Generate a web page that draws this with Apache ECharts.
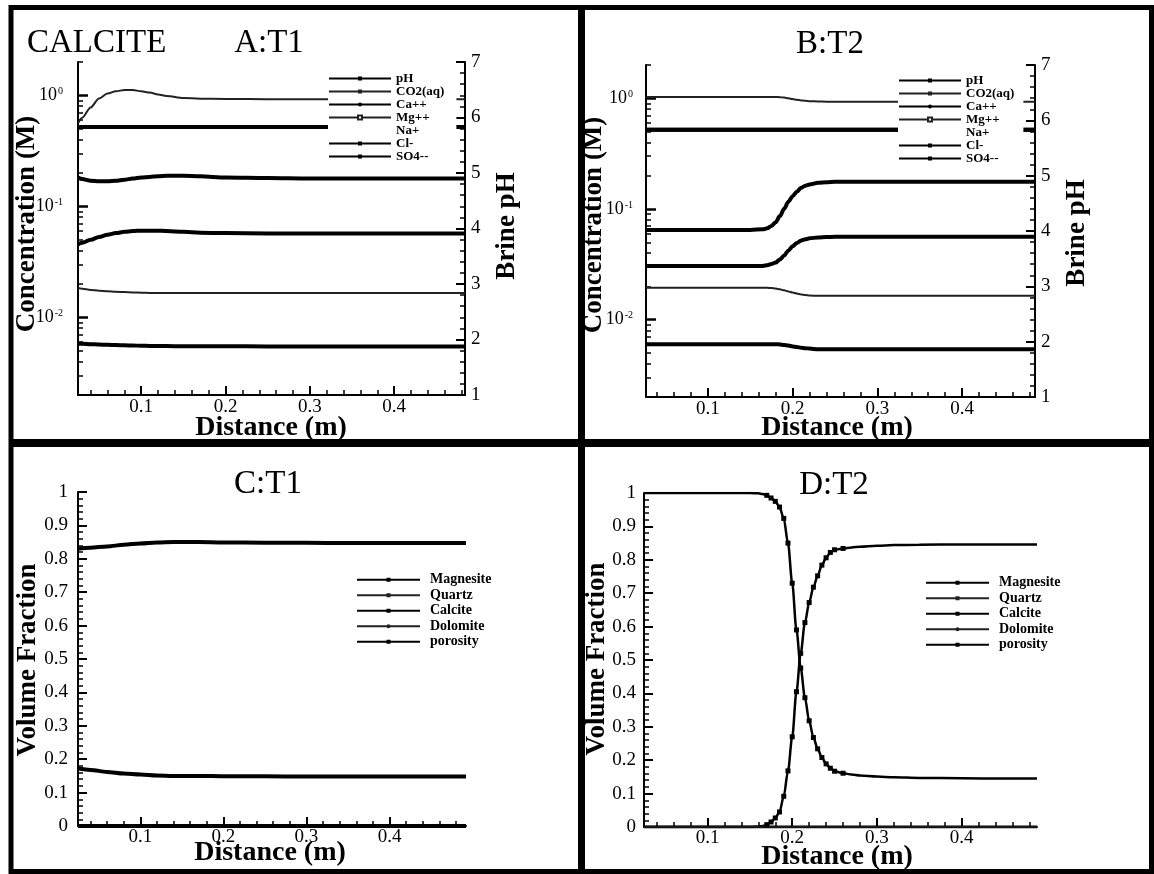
<!DOCTYPE html>
<html>
<head>
<meta charset="utf-8">
<script src="https://cdn.jsdelivr.net/npm/echarts@6/dist/echarts.min.js"></script>
<style>
    html, body { margin: 0; padding: 0; background: #fff; }
    #main { width: 1154px; height: 874px; }
</style>
</head>
<body>
<div id="main"></div>
<script>
    var SERIF = "'Liberation Serif', 'Times New Roman', serif";

    // tick positions
    var majorDist = [0.1, 0.2, 0.3, 0.4];
    var minorDist = [0.04, 0.06, 0.08, 0.12, 0.14, 0.16, 0.18, 0.22, 0.24, 0.26, 0.28, 0.32, 0.34, 0.36, 0.38, 0.42, 0.44, 0.46, 0.48];
    var majorConc = [0.01, 0.1, 1];
    var minorConc = [0.002, 0.003, 0.004, 0.005, 0.006, 0.007, 0.008, 0.009,
        0.02, 0.03, 0.04, 0.05, 0.06, 0.07, 0.08, 0.09,
        0.2, 0.3, 0.4, 0.5, 0.6, 0.7, 0.8, 0.9, 2];

    // A:T1  (concentration in M, pH on right axis)
    var distA = [0.025, 0.03, 0.04, 0.05, 0.06, 0.07, 0.08, 0.09, 0.10, 0.11, 0.12, 0.13, 0.15, 0.17, 0.20, 0.25, 0.30, 0.35, 0.40, 0.45, 0.484];
    var phA = [4.92, 4.89, 4.86, 4.85, 4.85, 4.86, 4.88, 4.90, 4.92, 4.93, 4.94, 4.95, 4.95, 4.94, 4.92, 4.91, 4.90, 4.90, 4.90, 4.90, 4.90];
    var co2A = [0.56, 0.63, 0.78, 0.94, 1.04, 1.09, 1.12, 1.12, 1.09, 1.06, 1.02, 0.99, 0.95, 0.935, 0.93, 0.925, 0.925, 0.925, 0.925, 0.925, 0.925];
    var caA = [0.0455, 0.047, 0.050, 0.053, 0.0555, 0.0575, 0.059, 0.060, 0.0605, 0.0605, 0.0605, 0.060, 0.059, 0.058, 0.0575, 0.057, 0.057, 0.057, 0.057, 0.057, 0.057];
    var mgA = [0.0184, 0.0181, 0.0177, 0.0174, 0.0172, 0.0170, 0.0169, 0.0168, 0.0167, 0.0166, 0.0166, 0.0166, 0.0166, 0.0166, 0.0166, 0.0166, 0.0166, 0.0166, 0.0166, 0.0166, 0.0166];
    var naA = [0.52, 0.52, 0.52, 0.52, 0.52, 0.52, 0.52, 0.52, 0.52, 0.52, 0.52, 0.52, 0.52, 0.52, 0.52, 0.52, 0.52, 0.52, 0.52, 0.52, 0.52];
    var clA = [0.52, 0.52, 0.52, 0.52, 0.52, 0.52, 0.52, 0.52, 0.52, 0.52, 0.52, 0.52, 0.52, 0.52, 0.52, 0.52, 0.52, 0.52, 0.52, 0.52, 0.52];
    var so4A = [0.0058, 0.00578, 0.00574, 0.0057, 0.00567, 0.00564, 0.00561, 0.00558, 0.00556, 0.00554, 0.00553, 0.00552, 0.0055, 0.0055, 0.00549, 0.00548, 0.00548, 0.00548, 0.00548, 0.00548, 0.00548];

    // B:T2
    var distB = [0.027, 0.05, 0.10, 0.15, 0.165, 0.17, 0.175, 0.18, 0.185, 0.19, 0.195, 0.20, 0.205, 0.21, 0.215, 0.22, 0.23, 0.24, 0.25, 0.30, 0.35, 0.40, 0.45, 0.486];
    var phB = [4.02, 4.02, 4.02, 4.02, 4.03, 4.05, 4.09, 4.16, 4.27, 4.40, 4.53, 4.63, 4.71, 4.78, 4.82, 4.84, 4.87, 4.88, 4.89, 4.89, 4.89, 4.89, 4.89, 4.89];
    var co2B = [1.03, 1.03, 1.03, 1.03, 1.03, 1.03, 1.03, 1.03, 1.025, 1.015, 1.0, 0.985, 0.97, 0.958, 0.95, 0.943, 0.937, 0.933, 0.93, 0.93, 0.93, 0.93, 0.93, 0.93];
    var caB = [0.0305, 0.0305, 0.0305, 0.0305, 0.0306, 0.031, 0.0318, 0.0328, 0.035, 0.038, 0.0422, 0.046, 0.0493, 0.0518, 0.0532, 0.0543, 0.0553, 0.0558, 0.056, 0.056, 0.056, 0.056, 0.056, 0.056];
    var mgB = [0.0194, 0.0194, 0.0194, 0.0194, 0.0194, 0.0194, 0.0193, 0.0191, 0.0188, 0.0184, 0.018, 0.0176, 0.0172, 0.0169, 0.0167, 0.0165, 0.0164, 0.0164, 0.0164, 0.0164, 0.0164, 0.0164, 0.0164, 0.0164];
    var naB = [0.52, 0.52, 0.52, 0.52, 0.52, 0.52, 0.52, 0.52, 0.52, 0.52, 0.52, 0.52, 0.52, 0.52, 0.52, 0.52, 0.52, 0.52, 0.52, 0.52, 0.52, 0.52, 0.52, 0.52];
    var clB = [0.52, 0.52, 0.52, 0.52, 0.52, 0.52, 0.52, 0.52, 0.52, 0.52, 0.52, 0.52, 0.52, 0.52, 0.52, 0.52, 0.52, 0.52, 0.52, 0.52, 0.52, 0.52, 0.52, 0.52];
    var so4B = [0.006, 0.006, 0.006, 0.006, 0.006, 0.006, 0.006, 0.006, 0.00597, 0.0059, 0.00583, 0.00573, 0.00565, 0.00558, 0.00552, 0.00548, 0.0054, 0.0054, 0.0054, 0.0054, 0.0054, 0.0054, 0.0054, 0.0054];

    // C:T1  (volume fraction)
    var distC = [0.025, 0.04, 0.06, 0.08, 0.10, 0.12, 0.14, 0.17, 0.20, 0.25, 0.30, 0.35, 0.40, 0.45, 0.492];
    var magnesiteC = [0, 0, 0, 0, 0, 0, 0, 0, 0, 0, 0, 0, 0, 0, 0];
    var quartzC = [0, 0, 0, 0, 0, 0, 0, 0, 0, 0, 0, 0, 0, 0, 0];
    var calciteC = [0.830, 0.833, 0.837, 0.842, 0.846, 0.849, 0.850, 0.850, 0.849, 0.848, 0.848, 0.847, 0.847, 0.847, 0.847];
    var dolomiteC = [0, 0, 0, 0, 0, 0, 0, 0, 0, 0, 0, 0, 0, 0, 0];
    var porosityC = [0.172, 0.168, 0.162, 0.157, 0.154, 0.151, 0.150, 0.150, 0.149, 0.149, 0.148, 0.148, 0.148, 0.148, 0.148];

    // D:T2
    var distD = [0.025, 0.10, 0.15, 0.16, 0.165, 0.17, 0.175, 0.18, 0.185, 0.19, 0.195, 0.20, 0.205, 0.21, 0.215, 0.22, 0.225, 0.23, 0.235, 0.24, 0.245, 0.25, 0.26, 0.27, 0.28, 0.30, 0.32, 0.35, 0.40, 0.45, 0.489];
    var magnesiteD = [0, 0, 0, 0, 0, 0, 0, 0, 0, 0, 0, 0, 0, 0, 0, 0, 0, 0, 0, 0, 0, 0, 0, 0, 0, 0, 0, 0, 0, 0, 0];
    var quartzD = [0, 0, 0, 0, 0, 0, 0, 0, 0, 0, 0, 0, 0, 0, 0, 0, 0, 0, 0, 0, 0, 0, 0, 0, 0, 0, 0, 0, 0, 0, 0];
    var calciteD = [0, 0, 0, 0.001, 0.003, 0.007, 0.015, 0.027, 0.045, 0.092, 0.168, 0.27, 0.405, 0.52, 0.612, 0.672, 0.718, 0.752, 0.784, 0.806, 0.822, 0.83, 0.834, 0.837, 0.839, 0.842, 0.844, 0.845, 0.846, 0.846, 0.846];
    var dolomiteD = [0, 0, 0, 0, 0, 0, 0, 0, 0, 0, 0, 0, 0, 0, 0, 0, 0, 0, 0, 0, 0, 0, 0, 0, 0, 0, 0, 0, 0, 0, 0];
    var porosityD = [1.0, 1.0, 1.0, 0.999, 0.997, 0.993, 0.985, 0.975, 0.958, 0.924, 0.85, 0.73, 0.59, 0.476, 0.387, 0.318, 0.268, 0.234, 0.208, 0.189, 0.176, 0.167, 0.161, 0.157, 0.154, 0.151, 0.149, 0.147, 0.146, 0.145, 0.145];

    var chart = echarts.init(document.getElementById('main'));

    var black = '#000';

    function pairs(xs, ys) {
        return xs.map(function (x, i) { return [x, ys[i]]; });
    }

    function xAxes(grid, min, max, labelMargin) {
        return [{
            type: 'value', gridIndex: grid, min: min, max: max, position: 'bottom',
            axisLine: {show: true, onZero: false, lineStyle: {color: black, width: 2}},
            axisTick: {inside: true, length: 9, customValues: majorDist, lineStyle: {color: black, width: 2}},
            axisLabel: {customValues: majorDist, color: black, fontFamily: SERIF, fontSize: 19, margin: labelMargin},
            splitLine: {show: false}
        }, {
            type: 'value', gridIndex: grid, min: min, max: max, position: 'bottom',
            axisLine: {show: false, onZero: false},
            axisTick: {inside: true, length: 5, customValues: minorDist, lineStyle: {color: black, width: 1.5}},
            axisLabel: {show: false},
            splitLine: {show: false}
        }];
    }

    function concAxes(grid, labelMargin) {
        return [{
            type: 'log', logBase: 10, gridIndex: grid, min: 0.002, max: 2, position: 'left',
            axisLine: {show: true, onZero: false, lineStyle: {color: black, width: 2}},
            axisTick: {inside: true, length: 10, customValues: majorConc, lineStyle: {color: black, width: 2.5}},
            axisLabel: {
                customValues: majorConc, color: black, fontFamily: SERIF, fontSize: 18, margin: labelMargin,
                formatter: function (v) { return '10{sup|' + Math.round(Math.log10(v)) + '}'; },
                rich: {sup: {fontSize: 10, fontFamily: SERIF, color: black, verticalAlign: 'top', padding: [0, 0, 8, 1]}}
            },
            splitLine: {show: false}
        }, {
            type: 'log', logBase: 10, gridIndex: grid, min: 0.002, max: 2, position: 'left',
            axisLine: {show: false, onZero: false},
            axisTick: {inside: true, length: 5, customValues: minorConc, lineStyle: {color: black, width: 1.5}},
            axisLabel: {show: false},
            splitLine: {show: false}
        }];
    }

    function phAxis(grid) {
        return {
            type: 'value', gridIndex: grid, min: 1, max: 7, interval: 1, position: 'right',
            axisLine: {show: true, onZero: false, lineStyle: {color: black, width: 2}},
            axisTick: {inside: true, length: 9, lineStyle: {color: black, width: 2}},
            minorTick: {show: true, splitNumber: 5, length: 5, lineStyle: {color: black, width: 1.5}},
            axisLabel: {color: black, fontFamily: SERIF, fontSize: 19, margin: 6},
            splitLine: {show: false}
        };
    }

    function fracAxis(grid, labelMargin) {
        return {
            type: 'value', gridIndex: grid, min: 0, max: 1, interval: 0.1, position: 'left',
            axisLine: {show: true, onZero: false, lineStyle: {color: black, width: 2}},
            axisTick: {inside: true, length: 9, lineStyle: {color: black, width: 2}},
            minorTick: {show: true, splitNumber: 5, length: 5, lineStyle: {color: black, width: 1.5}},
            axisLabel: {color: black, fontFamily: SERIF, fontSize: 19, margin: labelMargin},
            splitLine: {show: false}
        };
    }

    function line(name, xs, ys, xi, yi, width, symbol, color) {
        return {
            name: name, type: 'line', xAxisIndex: xi, yAxisIndex: yi,
            data: pairs(xs, ys),
            smooth: 0.3, smoothMonotone: 'x',
            symbol: symbol, showSymbol: false,
            lineStyle: {color: color || black, width: width},
            itemStyle: {color: color || black},
            z: width > 3 ? 3 : 2
        };
    }

    // D:T2 curves carry markers through the front
    function markedLine(name, xs, ys, xi, yi, width, symbol) {
        var s = line(name, xs, ys, xi, yi, width, symbol);
        s.showSymbol = true;
        s.symbolSize = function (val) {
            return (val[0] > 0.168 && val[0] < 0.27) ? 5 : 0;
        };
        return s;
    }

    function concLegend(left, top, padRight) {
        return {
            orient: 'vertical', left: left, top: top,
            padding: [1, padRight, 1, 0],
            backgroundColor: '#fff',
            itemWidth: 62, itemHeight: 5, itemGap: 0,
            selectedMode: false,
            textStyle: {fontFamily: SERIF, fontWeight: 'bold', fontSize: 13, lineHeight: 12, color: black},
            data: ['pH', 'CO2(aq)', 'Ca++', 'Mg++',
                {name: 'Na+', itemStyle: {opacity: 0}, lineStyle: {opacity: 0}},
                'Cl-', 'SO4--']
        };
    }

    function mineralLegend(left, top) {
        return {
            orient: 'vertical', left: left, top: top,
            padding: [0, 4, 0, 0],
            backgroundColor: '#fff',
            itemWidth: 63, itemHeight: 5, itemGap: 0,
            selectedMode: false,
            textStyle: {fontFamily: SERIF, fontWeight: 'bold', fontSize: 14, lineHeight: 15.5, color: black, padding: [0, 0, 0, 5]},
            data: ['Magnesite', 'Quartz', 'Calcite', 'Dolomite', 'porosity']
        };
    }

    function label(text, x, y, size, bold, rotate, align) {
        return {
            type: 'text', x: x, y: y, rotation: rotate ? Math.PI / 2 : 0,
            style: {
                text: text, fill: black, align: align || 'center', verticalAlign: 'middle',
                font: (bold ? 'bold ' : '') + size + 'px ' + SERIF
            }
        };
    }

    var option = {
        animation: false,
        backgroundColor: '#fff',
        grid: [
            {left: 78, top: 62, width: 387, height: 333},
            {left: 646, top: 65, width: 389, height: 332},
            {left: 78, top: 492, width: 388, height: 334},
            {left: 644, top: 493, width: 393, height: 334}
        ],
        xAxis: [].concat(
            xAxes(0, 0.025, 0.484, 3),
            xAxes(1, 0.027, 0.486, 3),
            xAxes(2, 0.025, 0.492, 2),
            xAxes(3, 0.025, 0.489, 2)
        ),
        yAxis: [].concat(
            concAxes(0, 15), [phAxis(0)],
            concAxes(1, 13), [phAxis(1)],
            [fracAxis(2, 10), fracAxis(3, 8)]
        ),
        legend: [
            concLegend(328, 71, 12),
            concLegend(898, 73, 9),
            mineralLegend(356, 572),
            mineralLegend(925, 575)
        ],
        series: [
            // A
            line('pH', distA, phA, 0, 2, 4, 'rect'),
            line('CO2(aq)', distA, co2A, 0, 0, 2, 'rect', '#222'),
            line('Ca++', distA, caA, 0, 0, 4, 'circle'),
            line('Mg++', distA, mgA, 0, 0, 2, 'emptyRect', '#222'),
            line('Na+', distA, naA, 0, 0, 4, 'rect'),
            line('Cl-', distA, clA, 0, 0, 4, 'rect'),
            line('SO4--', distA, so4A, 0, 0, 4, 'rect'),
            // B
            line('pH', distB, phB, 2, 5, 4, 'rect'),
            line('CO2(aq)', distB, co2B, 2, 3, 2, 'rect', '#222'),
            line('Ca++', distB, caB, 2, 3, 4, 'circle'),
            line('Mg++', distB, mgB, 2, 3, 2, 'emptyRect', '#222'),
            line('Na+', distB, naB, 2, 3, 4, 'rect'),
            line('Cl-', distB, clB, 2, 3, 4, 'rect'),
            line('SO4--', distB, so4B, 2, 3, 4, 'rect'),
            // C
            line('Magnesite', distC, magnesiteC, 4, 6, 4, 'rect'),
            line('Quartz', distC, quartzC, 4, 6, 2, 'rect', '#222'),
            line('Calcite', distC, calciteC, 4, 6, 4, 'rect'),
            line('Dolomite', distC, dolomiteC, 4, 6, 2, 'circle', '#222'),
            line('porosity', distC, porosityC, 4, 6, 4, 'rect'),
            // D
            line('Magnesite', distD, magnesiteD, 6, 7, 3, 'rect'),
            line('Quartz', distD, quartzD, 6, 7, 2, 'rect'),
            markedLine('Calcite', distD, calciteD, 6, 7, 2.5, 'rect'),
            line('Dolomite', distD, dolomiteD, 6, 7, 1.5, 'circle', '#222'),
            markedLine('porosity', distD, porosityD, 6, 7, 2.5, 'rect')
        ],
        graphic: [
            // panel frames
            {type: 'rect', shape: {x: 11, y: 7.5, width: 1140.5, height: 864}, style: {fill: 'transparent', stroke: black, lineWidth: 5}},
            {type: 'line', shape: {x1: 581.5, y1: 7, x2: 581.5, y2: 872}, style: {stroke: black, lineWidth: 7}},
            {type: 'line', shape: {x1: 11, y1: 443, x2: 1151, y2: 443}, style: {stroke: black, lineWidth: 8}},
            // titles
            label('CALCITE', 27, 43, 33, false, false, 'left'),
            label('A:T1', 269, 43, 33),
            label('B:T2', 830, 44, 33),
            label('C:T1', 268, 484, 33),
            label('D:T2', 834, 485, 33),
            // axis names
            label('Concentration (M)', 27, 224, 27, true, true),
            label('Brine pH', 507, 226, 27, true, true),
            label('Distance (m)', 271, 428, 28, true),
            label('Concentration (M)', 594, 225, 27, true, true),
            label('Brine pH', 1077, 233, 27, true, true),
            label('Distance (m)', 837, 428, 28, true),
            label('Volume Fraction', 28, 660, 27, true, true),
            label('Distance (m)', 270, 853, 28, true),
            label('Volume Fraction', 597, 659, 27, true, true),
            label('Distance (m)', 837, 857, 28, true)
        ]
    };

    chart.setOption(option);
</script>
</body>
</html>
